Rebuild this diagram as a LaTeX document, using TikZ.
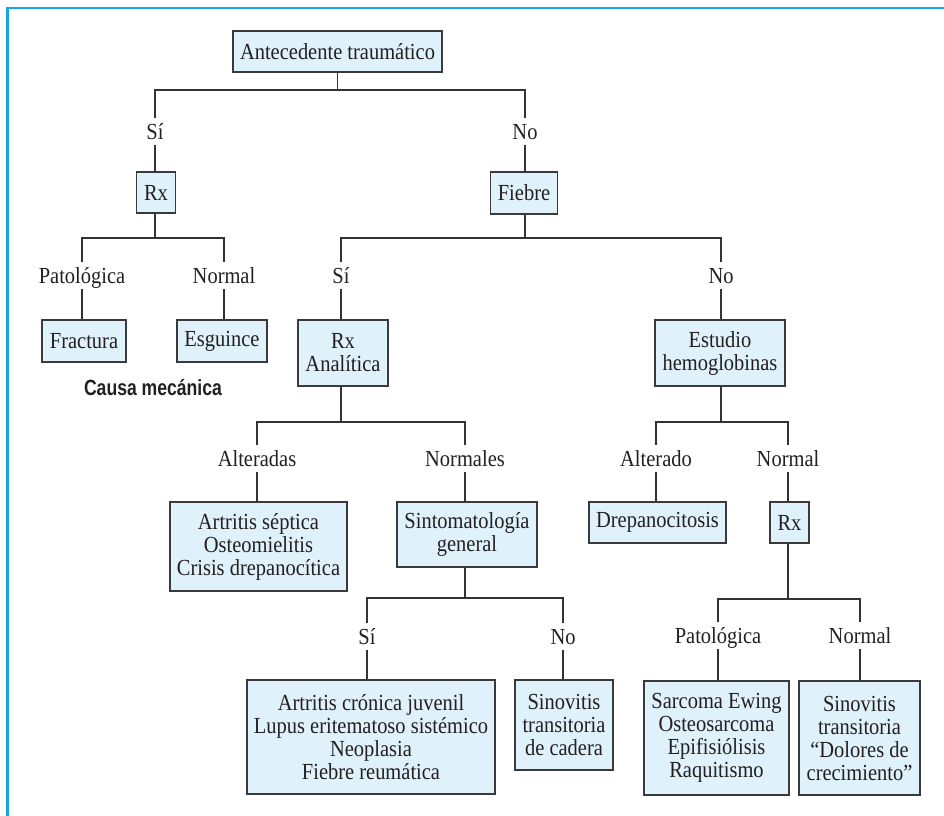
\documentclass[tikz,border=0pt]{standalone}
\usepackage{graphicx}
\usepackage{fontspec}
\setmainfont{Liberation Serif}
\newfontfamily\causafont{Liberation Sans}
\newcommand\sx[1]{\scalebox{0.89}[1]{#1}}
\newcommand\sxc[1]{\scalebox{0.8}[1]{#1}}
\definecolor{boxfill}{HTML}{DFF1FB}
\definecolor{boxline}{HTML}{3A3A3A}
\definecolor{lineclr}{HTML}{333333}
\definecolor{txt}{HTML}{231F20}
\definecolor{framec}{HTML}{14A7E3}
\begin{document}
\begin{tikzpicture}[x=1pt,y=-1pt,
  every node/.style={font=\rmfamily\fontsize{23}{23}\selectfont, text=txt},
  box/.style={draw=boxline, line width=1.3pt, fill=boxfill, align=center, inner sep=0pt},
  lab/.style={inner xsep=2pt, inner ysep=5.5pt, text height=16pt, text depth=0pt},
  conn/.style={draw=lineclr, line width=1.2pt},
  framestyle/.style={draw=framec, line width=2.7pt}
]
\useasboundingbox (0,0) rectangle (944,815);
\draw[framestyle] (7.5,830) -- (7.5,8) -- (960,8);

% boxes
\node[box, minimum width=209pt, minimum height=41pt] (ant) at (337.5,51.5) {\sx{Antecedente traumático}};
\node[box, minimum width=39pt, minimum height=41pt] (rx1) at (156,192.5) {\sx{Rx}};
\node[box, minimum width=67pt, minimum height=42pt] (fie) at (524,193) {\sx{Fiebre}};
\node[box, minimum width=84pt, minimum height=42pt] (fra) at (84,341) {\sx{Fractura}};
\node[box, minimum width=90pt, minimum height=42pt] (esg) at (222,341) {\sx{Esguince}};
\node[box, minimum width=90pt, minimum height=66pt] (rxa) at (343,353) {\sx{Rx}\\\sx{Analítica}};
\node[box, minimum width=130pt, minimum height=66pt] (est) at (720,353) {\sx{Estudio}\\\sx{hemoglobinas}};
\node[box, minimum width=177pt, minimum height=89pt] (sep) at (258.5,546.5) {\sx{Artritis séptica}\\\sx{Osteomielitis}\\\sx{Crisis drepanocítica}};
\node[box, minimum width=140pt, minimum height=65pt] (sin) at (467,534.5) {\sx{Sintomatología}\\\sx{general}};
\node[box, minimum width=137pt, minimum height=41pt] (dre) at (657.5,522.5) {\sx{Drepanocitosis}};
\node[box, minimum width=39pt, minimum height=41pt] (rx2) at (789.5,522.5) {\sx{Rx}};
\node[box, minimum width=248pt, minimum height=114pt] (acj) at (371,737) {\sx{Artritis crónica juvenil}\\\sx{Lupus eritematoso sistémico}\\\sx{Neoplasia}\\\sx{Fiebre reumática}};
\node[box, minimum width=98pt, minimum height=90pt] (sca) at (564,725) {\sx{Sinovitis}\\\sx{transitoria}\\\sx{de cadera}};
\node[box, minimum width=145pt, minimum height=114pt] (sar) at (716.5,738) {\sx{Sarcoma Ewing}\\\sx{Osteosarcoma}\\\sx{Epifisiólisis}\\\sx{Raquitismo}};
\node[box, minimum width=121pt, minimum height=114pt] (sdc) at (859.5,738) {\sx{Sinovitis}\\\sx{transitoria}\\\sx{``Dolores de}\\\sx{crecimiento''}};

% labels
\node[lab] (si1) at (155,131.5) {\sx{Sí}};
\node[lab] (no1) at (525,131.5) {\sx{No}};
\node[lab] (pa1) at (82,275.5) {\sx{Patológica}};
\node[lab] (nl1) at (224,275.5) {\sx{Normal}};
\node[lab] (si2) at (341,275.5) {\sx{Sí}};
\node[lab] (no2) at (721,275.5) {\sx{No}};
\node[lab] (alt) at (257,458.5) {\sx{Alteradas}};
\node[lab] (nor) at (465,458.5) {\sx{Normales}};
\node[lab] (ald) at (656,458.5) {\sx{Alterado}};
\node[lab] (nl2) at (788,458.5) {\sx{Normal}};
\node[lab] (si3) at (367,636.5) {\sx{Sí}};
\node[lab] (no3) at (563,636.5) {\sx{No}};
\node[lab] (pa2) at (718,635.5) {\sx{Patológica}};
\node[lab] (nl3) at (860,635.5) {\sx{Normal}};

\node[font=\causafont\bfseries\fontsize{22}{22}\selectfont] (cau) at (153,388) {\sxc{Causa mecánica}};

% connectors
\coordinate (j1) at (337.5,90);
\draw[conn] (ant.south) -- (j1);
\draw[conn] (si1.north) |- (j1) -| (no1.north);
\draw[conn] (si1.south) -- (si1.south |- rx1.north);
\draw[conn] (no1.south) -- (no1.south |- fie.north);

\coordinate (j2) at (155,238);
\draw[conn] (rx1.south -| j2) -- (j2);
\draw[conn] (pa1.north) |- (j2) -| (nl1.north);
\draw[conn] (pa1.south) -- (pa1.south |- fra.north);
\draw[conn] (nl1.south) -- (nl1.south |- esg.north);

\coordinate (j3) at (525,238);
\draw[conn] (fie.south -| j3) -- (j3);
\draw[conn] (si2.north) |- (j3) -| (no2.north);
\draw[conn] (si2.south) -- (si2.south |- rxa.north);
\draw[conn] (no2.south) -- (no2.south |- est.north);

\coordinate (j4) at (341,422);
\draw[conn] (rxa.south -| j4) -- (j4);
\draw[conn] (alt.north) |- (j4) -| (nor.north);
\draw[conn] (alt.south) -- (alt.south |- sep.north);
\draw[conn] (nor.south) -- (nor.south |- sin.north);

\coordinate (j5) at (721,422);
\draw[conn] (est.south -| j5) -- (j5);
\draw[conn] (ald.north) |- (j5) -| (nl2.north);
\draw[conn] (ald.south) -- (ald.south |- dre.north);
\draw[conn] (nl2.south) -- (nl2.south |- rx2.north);

\coordinate (j6) at (788,599);
\draw[conn] (rx2.south -| j6) -- (j6);
\draw[conn] (pa2.north) |- (j6) -| (nl3.north);
\draw[conn] (pa2.south) -- (pa2.south |- sar.north);
\draw[conn] (nl3.south) -- (nl3.south |- sdc.north);

\coordinate (j7) at (465,598);
\draw[conn] (sin.south -| j7) -- (j7);
\draw[conn] (si3.north) |- (j7) -| (no3.north);
\draw[conn] (si3.south) -- (si3.south |- acj.north);
\draw[conn] (no3.south) -- (no3.south |- sca.north);
\end{tikzpicture}
\end{document}
